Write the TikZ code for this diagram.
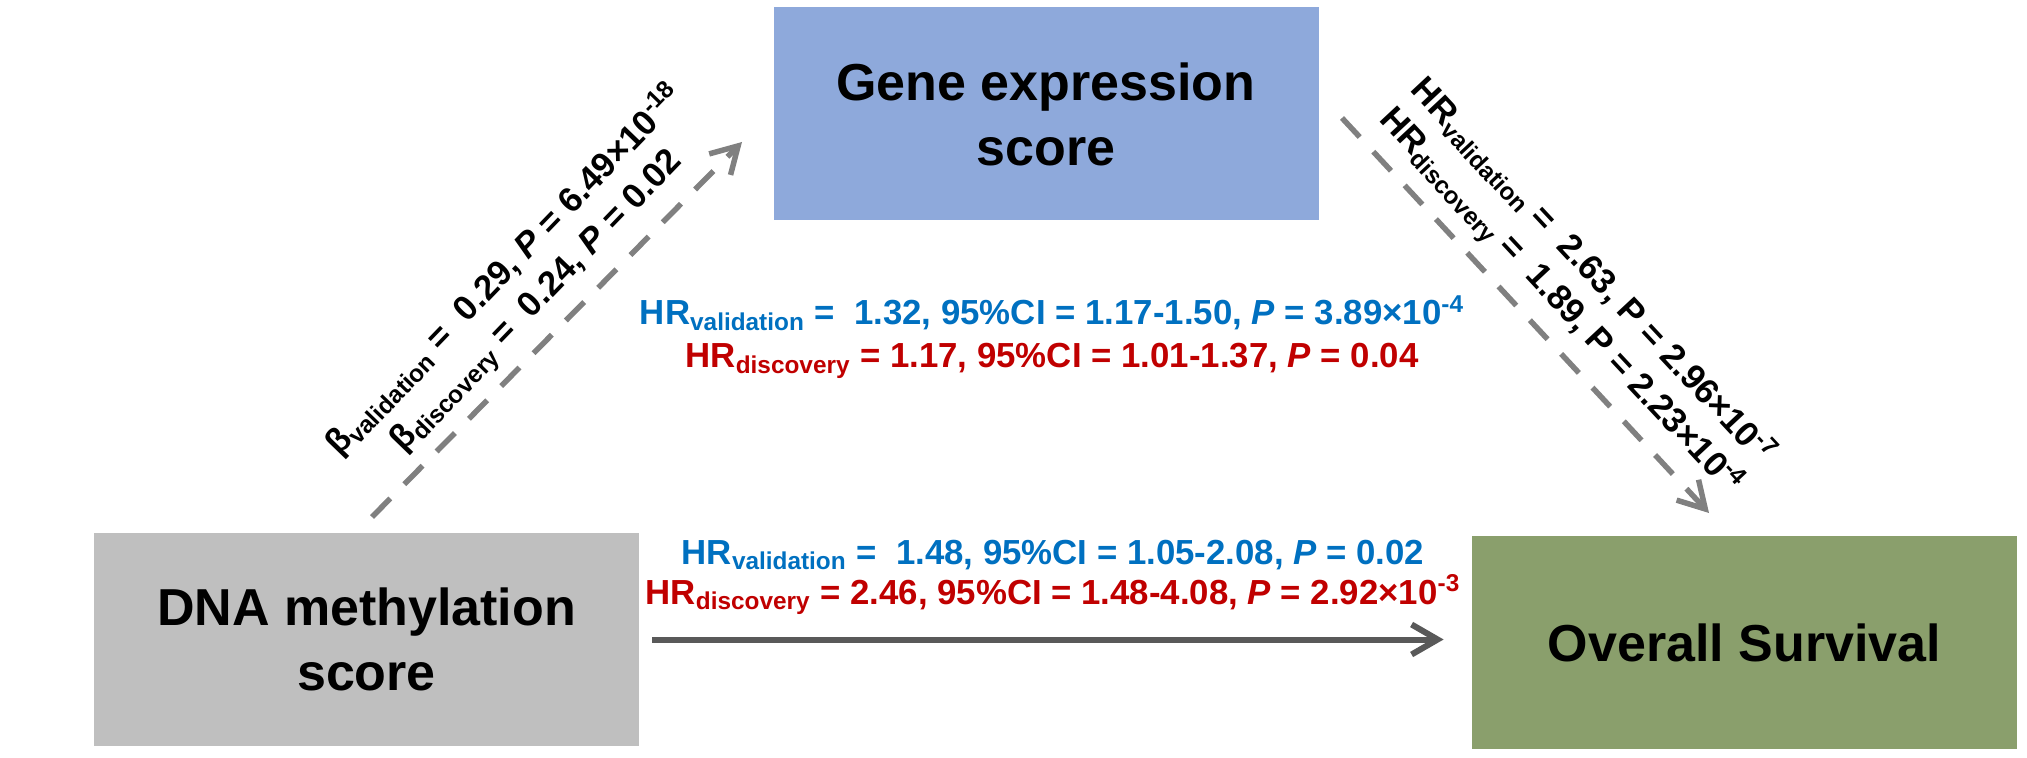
\documentclass[tikz,border=0pt]{standalone}
\usepackage{fontspec}
\setmainfont{Liberation Sans}
\usetikzlibrary{arrows.meta,calc}
\definecolor{geneblue}{HTML}{8EA9DB}
\definecolor{dnagray}{HTML}{BFBFBF}
\definecolor{osgreen}{HTML}{8A9F6C}
\definecolor{txtblue}{HTML}{0070C0}
\definecolor{txtred}{HTML}{C00000}
\definecolor{arrowdark}{HTML}{595959}
\definecolor{dashgray}{HTML}{808080}
\newcommand{\lsb}[1]{\textsubscript{#1}}
\newcommand{\lsp}[1]{\textsuperscript{#1}}
\begin{document}
\begin{tikzpicture}[x=0.5pt,y=-0.5pt,
  box/.style={inner sep=0pt, minimum width=272.5pt, minimum height=106.5pt, align=center,
    font=\fontsize{26}{32.5}\selectfont\bfseries},
  lbl/.style={font=\fontsize{17.4}{21.5}\selectfont\bfseries, inner sep=0pt},
  dasharrow/.style={draw=dashgray, line width=2.75pt, dash pattern=on 13pt off 10pt,
    -{Straight Barb[length=13pt,width=15pt]}},
  solidarrow/.style={draw=arrowdark, line width=3pt,
    -{Straight Barb[length=13pt,width=15pt]}}]
\useasboundingbox (0,0) rectangle (2027,758);
% boxes
\node[box, fill=geneblue] (gene) at (1046,114) {Gene expression\\score};
\node[box, fill=dnagray] (dna) at (366.5,639.5) {DNA methylation\\score};
\node[box, fill=osgreen] (os) at (1744.5,642.5) {Overall Survival};
% connector end points
\coordinate (ls) at (372,517);
\coordinate (le) at (742,142);
\coordinate (rs) at (1342,118);
\coordinate (re) at (1709,513);
% connectors
\draw[dasharrow] (ls) -- (le);
\draw[dasharrow] (rs) -- (re);
\draw[solidarrow, shorten <=6.5pt, shorten >=14pt] (dna.east) -- (dna.east -| os.west);
% diagonal labels
\node[lbl, rotate=46, align=center] (betalbl) at (521,286)
  {β\lsb{validation} =\ \ 0.29, \textit{P} = 6.49×10\lsp{-18}\\
   β\lsb{discovery} =\ \ 0.24, \textit{P} = 0.02};
\node[lbl, rotate=-47, align=center] (hrlbl) at (1576,287)
  {HR\lsb{validation} =\ \ 2.63, P = 2.96×10\lsp{-7}\\
   HR\lsb{discovery} =\ \ 1.89, P = 2.23×10\lsp{-4}};
% horizontal labels (mediated path)
\node[lbl, anchor=base, text=txtblue] (t1) at (1052,325)
  {HR\lsb{validation} =\ \ 1.32, 95\%CI = 1.17-1.50, \textit{P} = 3.89×10\lsp{-4}};
\node[lbl, anchor=base, text=txtred] (t2) at (1052,368)
  {HR\lsb{discovery} = 1.17, 95\%CI = 1.01-1.37, \textit{P} = 0.04};
% horizontal labels (direct path)
\node[lbl, anchor=base, text=txtblue] (b1) at (1053,564)
  {HR\lsb{validation} =\ \ 1.48, 95\%CI = 1.05-2.08, \textit{P} = 0.02};
\node[lbl, anchor=base, text=txtred] (b2) at (1053,604)
  {HR\lsb{discovery} = 2.46, 95\%CI = 1.48-4.08, \textit{P} = 2.92×10\lsp{-3}};
\end{tikzpicture}
\end{document}
